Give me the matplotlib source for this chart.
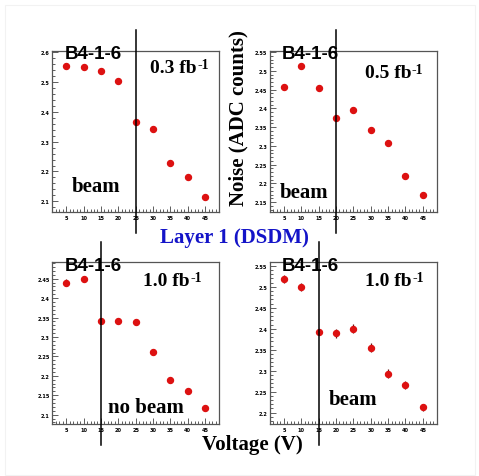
import matplotlib.pyplot as plt
from matplotlib.ticker import MultipleLocator, AutoMinorLocator
from matplotlib.patches import Rectangle

# data
voltage = [5, 10, 15, 20, 25, 30, 35, 40, 45]
noise_03 = [2.554, 2.549, 2.537, 2.505, 2.367, 2.344, 2.230, 2.181, 2.115]
noise_05 = [2.458, 2.513, 2.455, 2.374, 2.395, 2.342, 2.309, 2.221, 2.169]
noise_10_nobeam = [2.440, 2.449, 2.340, 2.340, 2.338, 2.262, 2.189, 2.162, 2.117]
noise_10_beam = [2.518, 2.500, 2.392, 2.389, 2.400, 2.355, 2.293, 2.266, 2.213]
err_03 = [0.006, 0.006, 0.006, 0.006, 0.005, 0.007, 0.006, 0.006, 0.006]
err_05 = [0.007, 0.008, 0.008, 0.005, 0.008, 0.008, 0.008, 0.008, 0.007]
err_10_nobeam = [0.008, 0.008, 0.005, 0.007, 0.007, 0.008, 0.008, 0.007, 0.006]
err_10_beam = [0.010, 0.010, 0.006, 0.010, 0.011, 0.010, 0.010, 0.010, 0.008]
cut_voltage = [25, 20, 15, 15]
lumi_labels = ['0.3 fb', '0.5 fb', '1.0 fb', '1.0 fb']
beam_labels = ['beam', 'beam', 'no beam', 'beam']
sensor = 'B4-1-6'

series = [noise_03, noise_05, noise_10_nobeam, noise_10_beam]
errors = [err_03, err_05, err_10_nobeam, err_10_beam]
ylims = [(2.063, 2.605), (2.123, 2.554), (2.076, 2.492), (2.173, 2.558)]
ymajor = [0.1, 0.05, 0.05, 0.05]
boxes = [(0.1092, 0.5528), (0.5637, 0.5528), (0.1092, 0.109), (0.5637, 0.109)]
sensor_pos = [(0.244, 0.98), (0.24, 0.98), (0.244, 0.979), (0.24, 0.979)]
lumi_pos = [(0.727, 0.895), (0.708, 0.866), (0.685, 0.887), (0.711, 0.887)]
beam_pos = [(0.265, 0.165), (0.203, 0.125), (0.564, 0.107), (0.50, 0.154)]

fig = plt.figure(figsize=(4.79, 4.77), dpi=100)
fig.patches.append(Rectangle((0.011, 0.003), 0.98, 0.985, transform=fig.transFigure,
                             fill=False, edgecolor='#f2f2f2', lw=0.8))

for i in range(4):
    ax = fig.add_axes([boxes[i][0], boxes[i][1], 0.348, 0.3388])
    ax.errorbar(voltage, series[i], yerr=errors[i], fmt='o', color='#dd1111',
                ms=4.3, ecolor='#661111', elinewidth=0.9, capsize=0, zorder=3)
    ax.set_xlim(1, 49)
    ax.set_ylim(*ylims[i])
    ax.xaxis.set_major_locator(MultipleLocator(5))
    ax.xaxis.set_minor_locator(MultipleLocator(1))
    ax.yaxis.set_major_locator(MultipleLocator(ymajor[i]))
    ax.yaxis.set_minor_locator(AutoMinorLocator(5))
    ax.tick_params(which='both', direction='in', top=False, right=False,
                   color='#444444', width=0.6)
    ax.tick_params(which='major', length=4, labelsize=3.6, pad=2)
    ax.tick_params(which='minor', length=2)
    ax.yaxis.set_major_formatter(plt.FuncFormatter(lambda v, p: ('%.2f' % v).rstrip('0').rstrip('.')))
    for lab in ax.get_xticklabels() + ax.get_yticklabels():
        lab.set_fontweight('bold')
    for sp in ax.spines.values():
        sp.set_color('#555555')
        sp.set_linewidth(0.9)
    ax.axvline(cut_voltage[i], ymin=-0.128, ymax=1.128, color='black', lw=1.1,
               clip_on=False, zorder=4)
    ax.text(sensor_pos[i][0], sensor_pos[i][1], sensor, transform=ax.transAxes,
            ha='center', va='center', fontsize=13.5, fontweight='bold',
            family='Liberation Sans', zorder=5)
    t = ax.text(lumi_pos[i][0], lumi_pos[i][1], lumi_labels[i], transform=ax.transAxes,
                ha='center', va='center', fontsize=14, fontweight='bold',
                family='Liberation Serif')
    ax.annotate('-1', xy=(1.0, 1.04), xycoords=t, ha='left', va='top',
                fontsize=10, fontweight='bold', family='Liberation Serif',
                xytext=(0.5, 0), textcoords='offset points')
    ax.text(beam_pos[i][0], beam_pos[i][1], beam_labels[i], transform=ax.transAxes,
            ha='center', va='center', fontsize=15, fontweight='bold',
            family='Liberation Serif')

fig.text(0.497, 0.753, 'Noise (ADC counts)', rotation=90, ha='center', va='center',
         fontsize=15, fontweight='bold', family='Liberation Serif')
fig.text(0.4896, 0.501, 'Layer 1 (DSDM)', ha='center', va='center', color='#1414c8',
         fontsize=15, fontweight='bold', family='Liberation Serif')
fig.text(0.527, 0.067, 'Voltage (V)', ha='center', va='center',
         fontsize=15, fontweight='bold', family='Liberation Serif')

fig.savefig('out.png', dpi=100, facecolor='white')
